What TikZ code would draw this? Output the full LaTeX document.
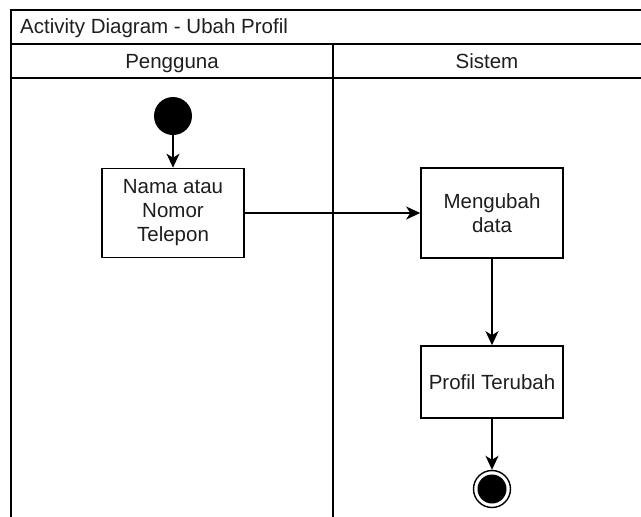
\documentclass[tikz,border=0pt]{standalone}
\usepackage{fontspec}
\setmainfont{Liberation Sans}
\usetikzlibrary{arrows.meta}
\definecolor{inktext}{HTML}{1E1E1E}
\begin{document}
\begin{tikzpicture}[x=1pt,y=-1pt,
  every node/.style={font=\fontsize{20.5}{24}\selectfont, align=center, inner sep=0pt, text=inktext},
  frame/.style={line width=1.6pt, line cap=rect},
  actbox/.style={draw, line width=1.6pt, fill=white, rectangle, minimum width=142pt},
  flow/.style={line width=1.6pt, -{Stealth[length=14pt,width=13pt,inset=4pt]}}]
\useasboundingbox (0,0) rectangle (641,517);
% swimlane pool: title bar, lane headers, lane divider
\draw[frame] (645,10) -- (11,10) -- (11,520);
\draw[frame] (11,44) -- (645,44);
\draw[frame] (11,78) -- (645,78);
\draw[frame] (333,44) -- (333,520);
\node[anchor=base west] (title) at (20,33.5) {Activity Diagram - Ubah Profil};
\node[anchor=base] (lane1) at (172,68) {Pengguna};
\node[anchor=base] (lane2) at (487,68) {Sistem};
% activity nodes
\node[circle, fill=black, minimum size=38pt] (start) at (173,116) {};
\node[actbox, minimum height=89pt] (input) at (173,213) {Nama atau\\Nomor\\Telepon};
\node[actbox, minimum height=90pt] (change) at (492,213) {Mengubah\\data};
\node[actbox, minimum height=72pt] (done) at (492,382) {Profil Terubah};
\node[circle, fill=black, minimum size=29pt] (endcore) at (492,489) {};
\node[circle, draw, line width=1.4pt, minimum size=37pt] (end) at (492,489) {};
% control flow
\draw[flow] (start) -- (input);
\draw[flow] (input) -- (change);
\draw[flow] (change) -- (done);
\draw[flow] (done) -- (end);
\end{tikzpicture}
\end{document}
